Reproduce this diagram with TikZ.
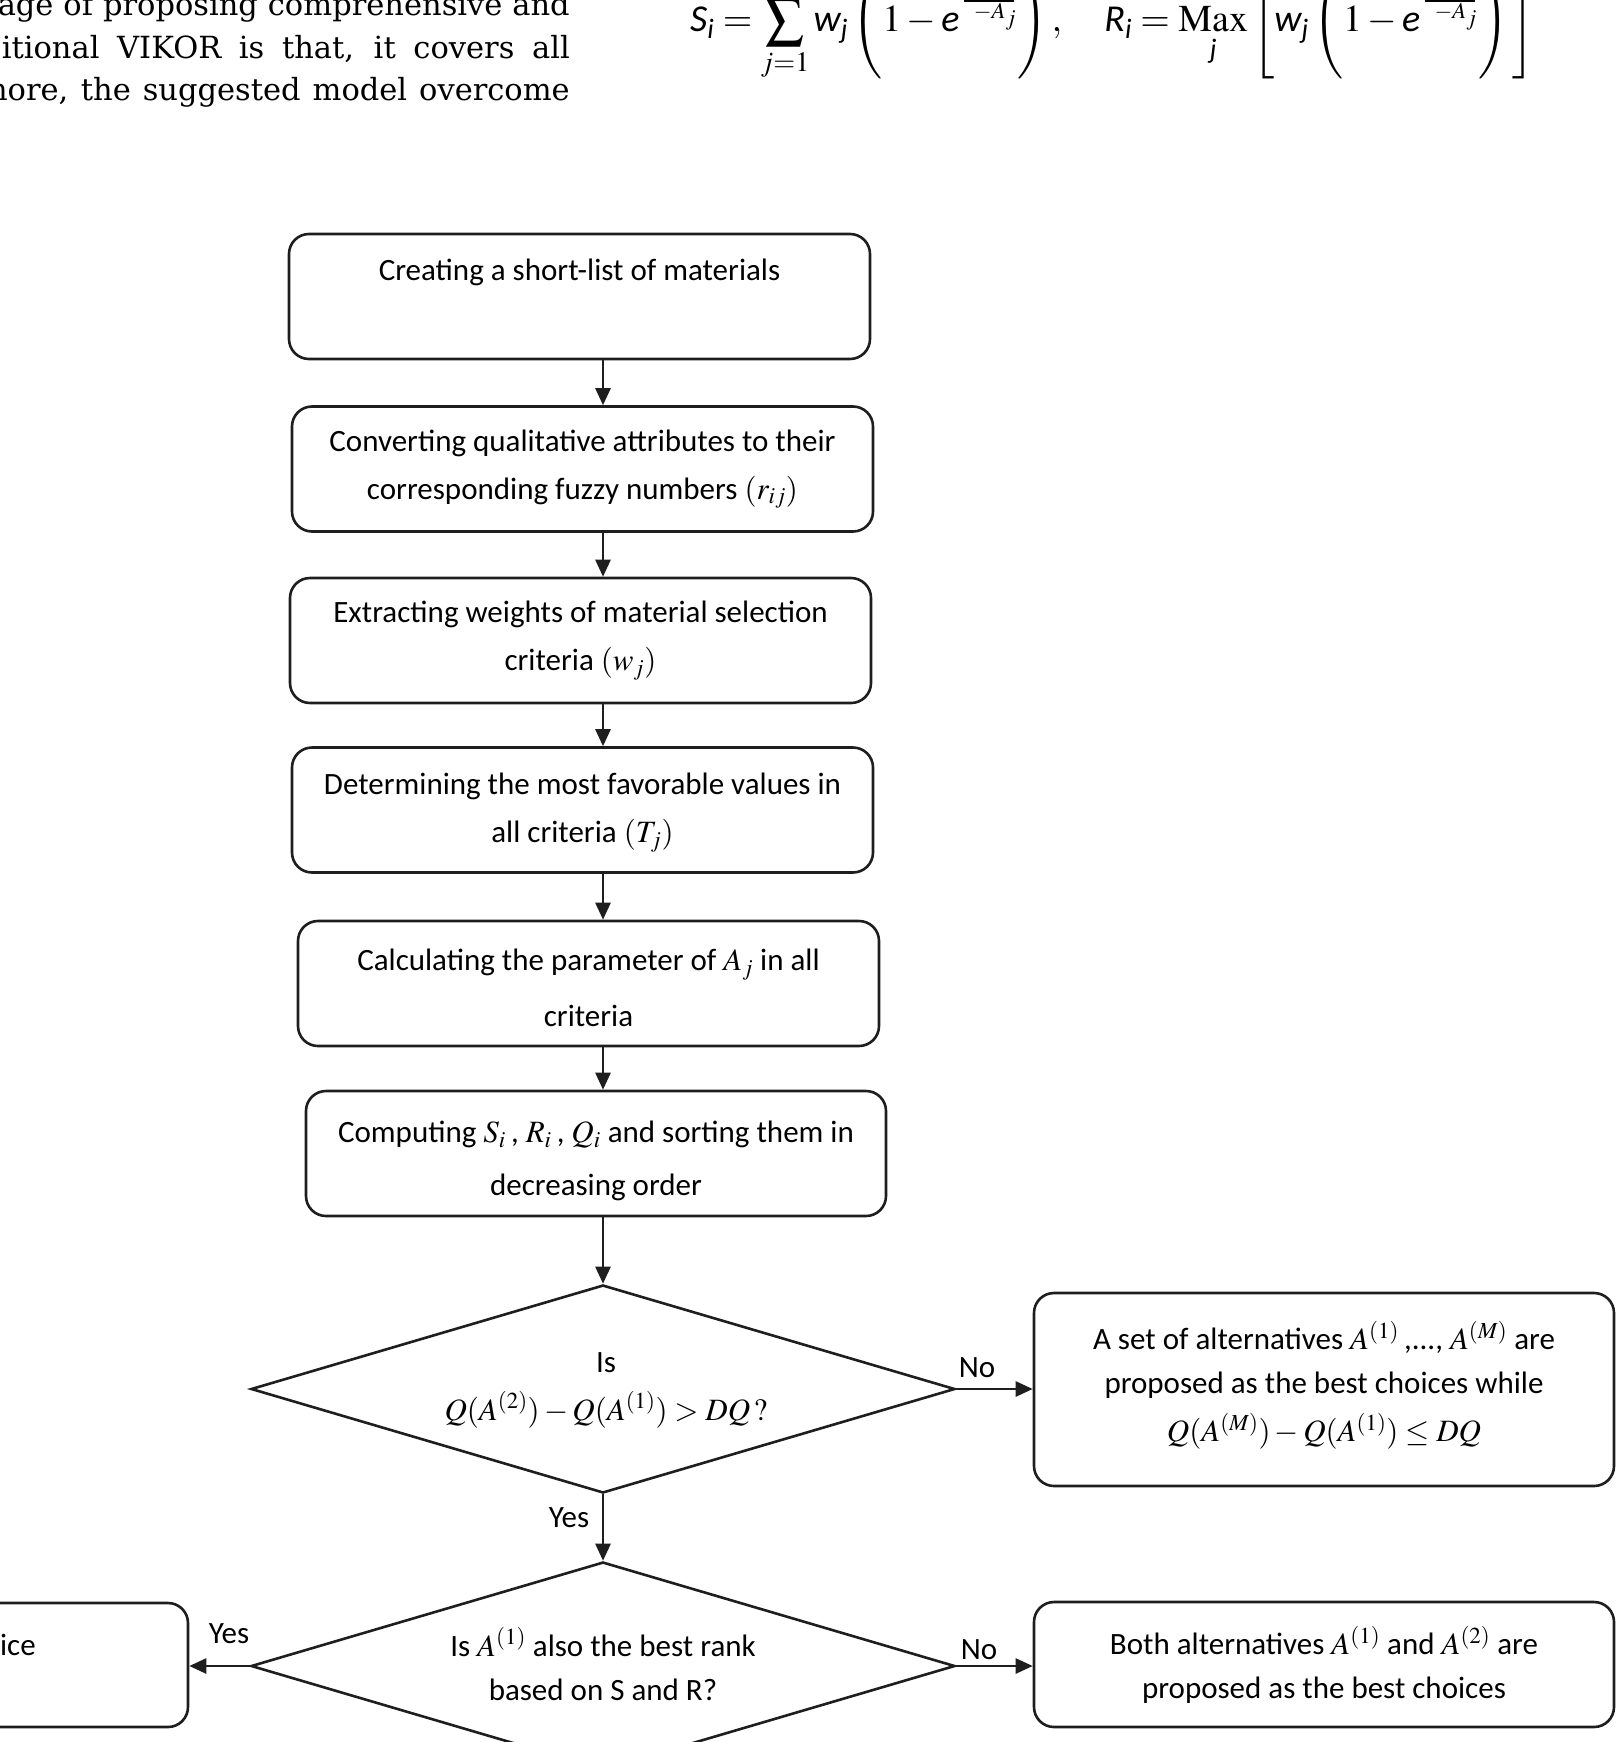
\documentclass[tikz,border=0pt]{standalone}
\usepackage{amsmath}
\usepackage{mathptmx}
\usepackage[no-math]{fontspec}
\setmainfont{Carlito}
\newfontfamily\parafont{DejaVu Serif}
\newfontfamily\calibfont{Carlito}
\usetikzlibrary{arrows.meta,shapes.geometric}
\newcommand{\ci}[1]{\text{\calibfont\itshape #1}}
\newcommand{\expo}{\makebox[0pt][l]{\raisebox{30pt}{\rule{50pt}{1.8pt}}}\raisebox{13pt}{$\scriptscriptstyle\;\;-A_j$}\hspace{1pt}}
\definecolor{ln}{HTML}{1E1E1E}
\tikzset{
  box/.style={draw=ln, line width=2.6pt, rounded corners=20pt, minimum width=581pt, minimum height=125pt, inner sep=0pt, align=center, font=\fontsize{31}{48}\selectfont},
  dia/.style={draw=ln, line width=2.6pt, diamond, minimum width=704pt, minimum height=208pt, inner sep=0pt, aspect=3.38},
  arr/.style={draw=ln, line width=2.6pt, -{Triangle[length=17pt,width=15pt]}},
  lbl/.style={font=\fontsize{31}{48}\selectfont, inner sep=0pt},
  para/.style={font=\parafont\fontsize{30.5}{36}\selectfont, inner sep=0pt, anchor=base east},
}
\begin{document}
\begin{tikzpicture}[x=1pt,y=-1pt]
\useasboundingbox (0,0) rectangle (1622,1742);
\clip (0,0) rectangle (1622,1742);
% paragraph fragment
\node[para] (p1) at (570,16) {\makebox[572pt][s]{age of proposing comprehensive and}};
\node[para] (p2) at (570,58.5) {\makebox[568pt][s]{itional VIKOR is that, it covers all}};
\node[para] (p3) at (570,101) {\makebox[591pt][s]{more, the suggested model overcome}};
% formula fragment
\node[anchor=base west, inner sep=0pt, font=\fontsize{38}{40}\selectfont] (fm) at (690,32)
 {$\displaystyle \ci{S}_{\ci{i}} = \sum_{j=1} \ci{w}_{\ci{j}}\left( 1 - \ci{e}\,\expo\rule[-43pt]{0pt}{106pt}\right),\quad
   \ci{R}_{\ci{i}} = \mathop{\mathrm{Max}}_{\ci{j}}\left[\ci{w}_{\ci{j}}\left( 1 - \ci{e}\,\expo\rule[-43pt]{0pt}{106pt}\right)\rule[-47pt]{0pt}{115pt}\right]$};
% process boxes
\node[box, text height=23pt, text depth=56pt] (b1) at (579.5,296.5) {Creating a short-list of materials};
\node[box] (b2) at (582.5,469) {Converting qualitative attributes to their\\corresponding fuzzy numbers $(r_{ij})$};
\node[box] (b3) at (580.5,640.5) {Extracting weights of material selection\\criteria $(w_j)$};
\node[box] (b4) at (582.5,810) {\rule{0pt}{27pt}Determining the most favorable values in\\all criteria $(T_j)$};
\node[box] (b5) at (588.5,983.5) {\rule{0pt}{30pt}Calculating the parameter of $A_j$ in all\\[8pt]criteria};
\node[box, minimum width=580pt] (b6) at (596,1153.5) {\rule{0pt}{36pt}Computing $S_i$\,, $R_i$\,, $Q_i$ and sorting them in\\[5pt]decreasing order};
% decisions
\node[dia] (d1) at (603,1389) {};
\node[lbl, align=center] (t1) at (606,1390) {Is\\$Q(A^{(2)})-Q(A^{(1)})>DQ\,?$};
\node[dia] (d2) at (603,1666) {};
\node[lbl, align=center, font=\fontsize{31}{44}\selectfont] (t2) at (603,1664) {Is $A^{(1)}$ also the best rank\\based on S and R?};
% outcome boxes
\node[box, minimum width=580pt, minimum height=193pt, font=\fontsize{31}{44}\selectfont] (r1) at (1324,1389.5)
 {A set of alternatives $A^{(1)}$\,,..., $A^{(M)}$ are\\proposed as the best choices while\\[4pt]$Q(A^{(M)})-Q(A^{(1)})\le DQ$\rule[-16pt]{0pt}{0pt}};
\node[box, minimum width=580pt, font=\fontsize{31}{44}\selectfont] (r2) at (1324,1664.5) {Both alternatives $A^{(1)}$ and $A^{(2)}$ are\\proposed as the best choices};
\node[box, minimum width=580pt, minimum height=124pt] (lb) at (-102,1665) {};
\node[lbl, anchor=base east] (lt) at (36,1655) {the best choice};
% connectors
\draw[arr] (b1.south -| d1.north) -- (b2.north -| d1.north);
\draw[arr] (b2.south -| d1.north) -- (b3.north -| d1.north);
\draw[arr] (b3.south -| d1.north) -- (b4.north -| d1.north);
\draw[arr] (b4.south -| d1.north) -- (b5.north -| d1.north);
\draw[arr] (b5.south -| d1.north) -- (b6.north -| d1.north);
\draw[arr] (b6.south -| d1.north) -- (d1.north);
\draw[arr] (d1.south) -- (d2.north);
\draw[arr] (d1.east) -- (d1.east -| r1.west);
\draw[arr] (d2.east) -- (d2.east -| r2.west);
\draw[arr] (d2.west) -- (d2.west -| lb.east);
% labels
\node[lbl] (no1) at (977,1368) {No};
\node[lbl] (no2) at (979,1650) {No};
\node[lbl] (ys1) at (569,1518) {Yes};
\node[lbl] (ys2) at (229,1634) {Yes};
\end{tikzpicture}
\end{document}
